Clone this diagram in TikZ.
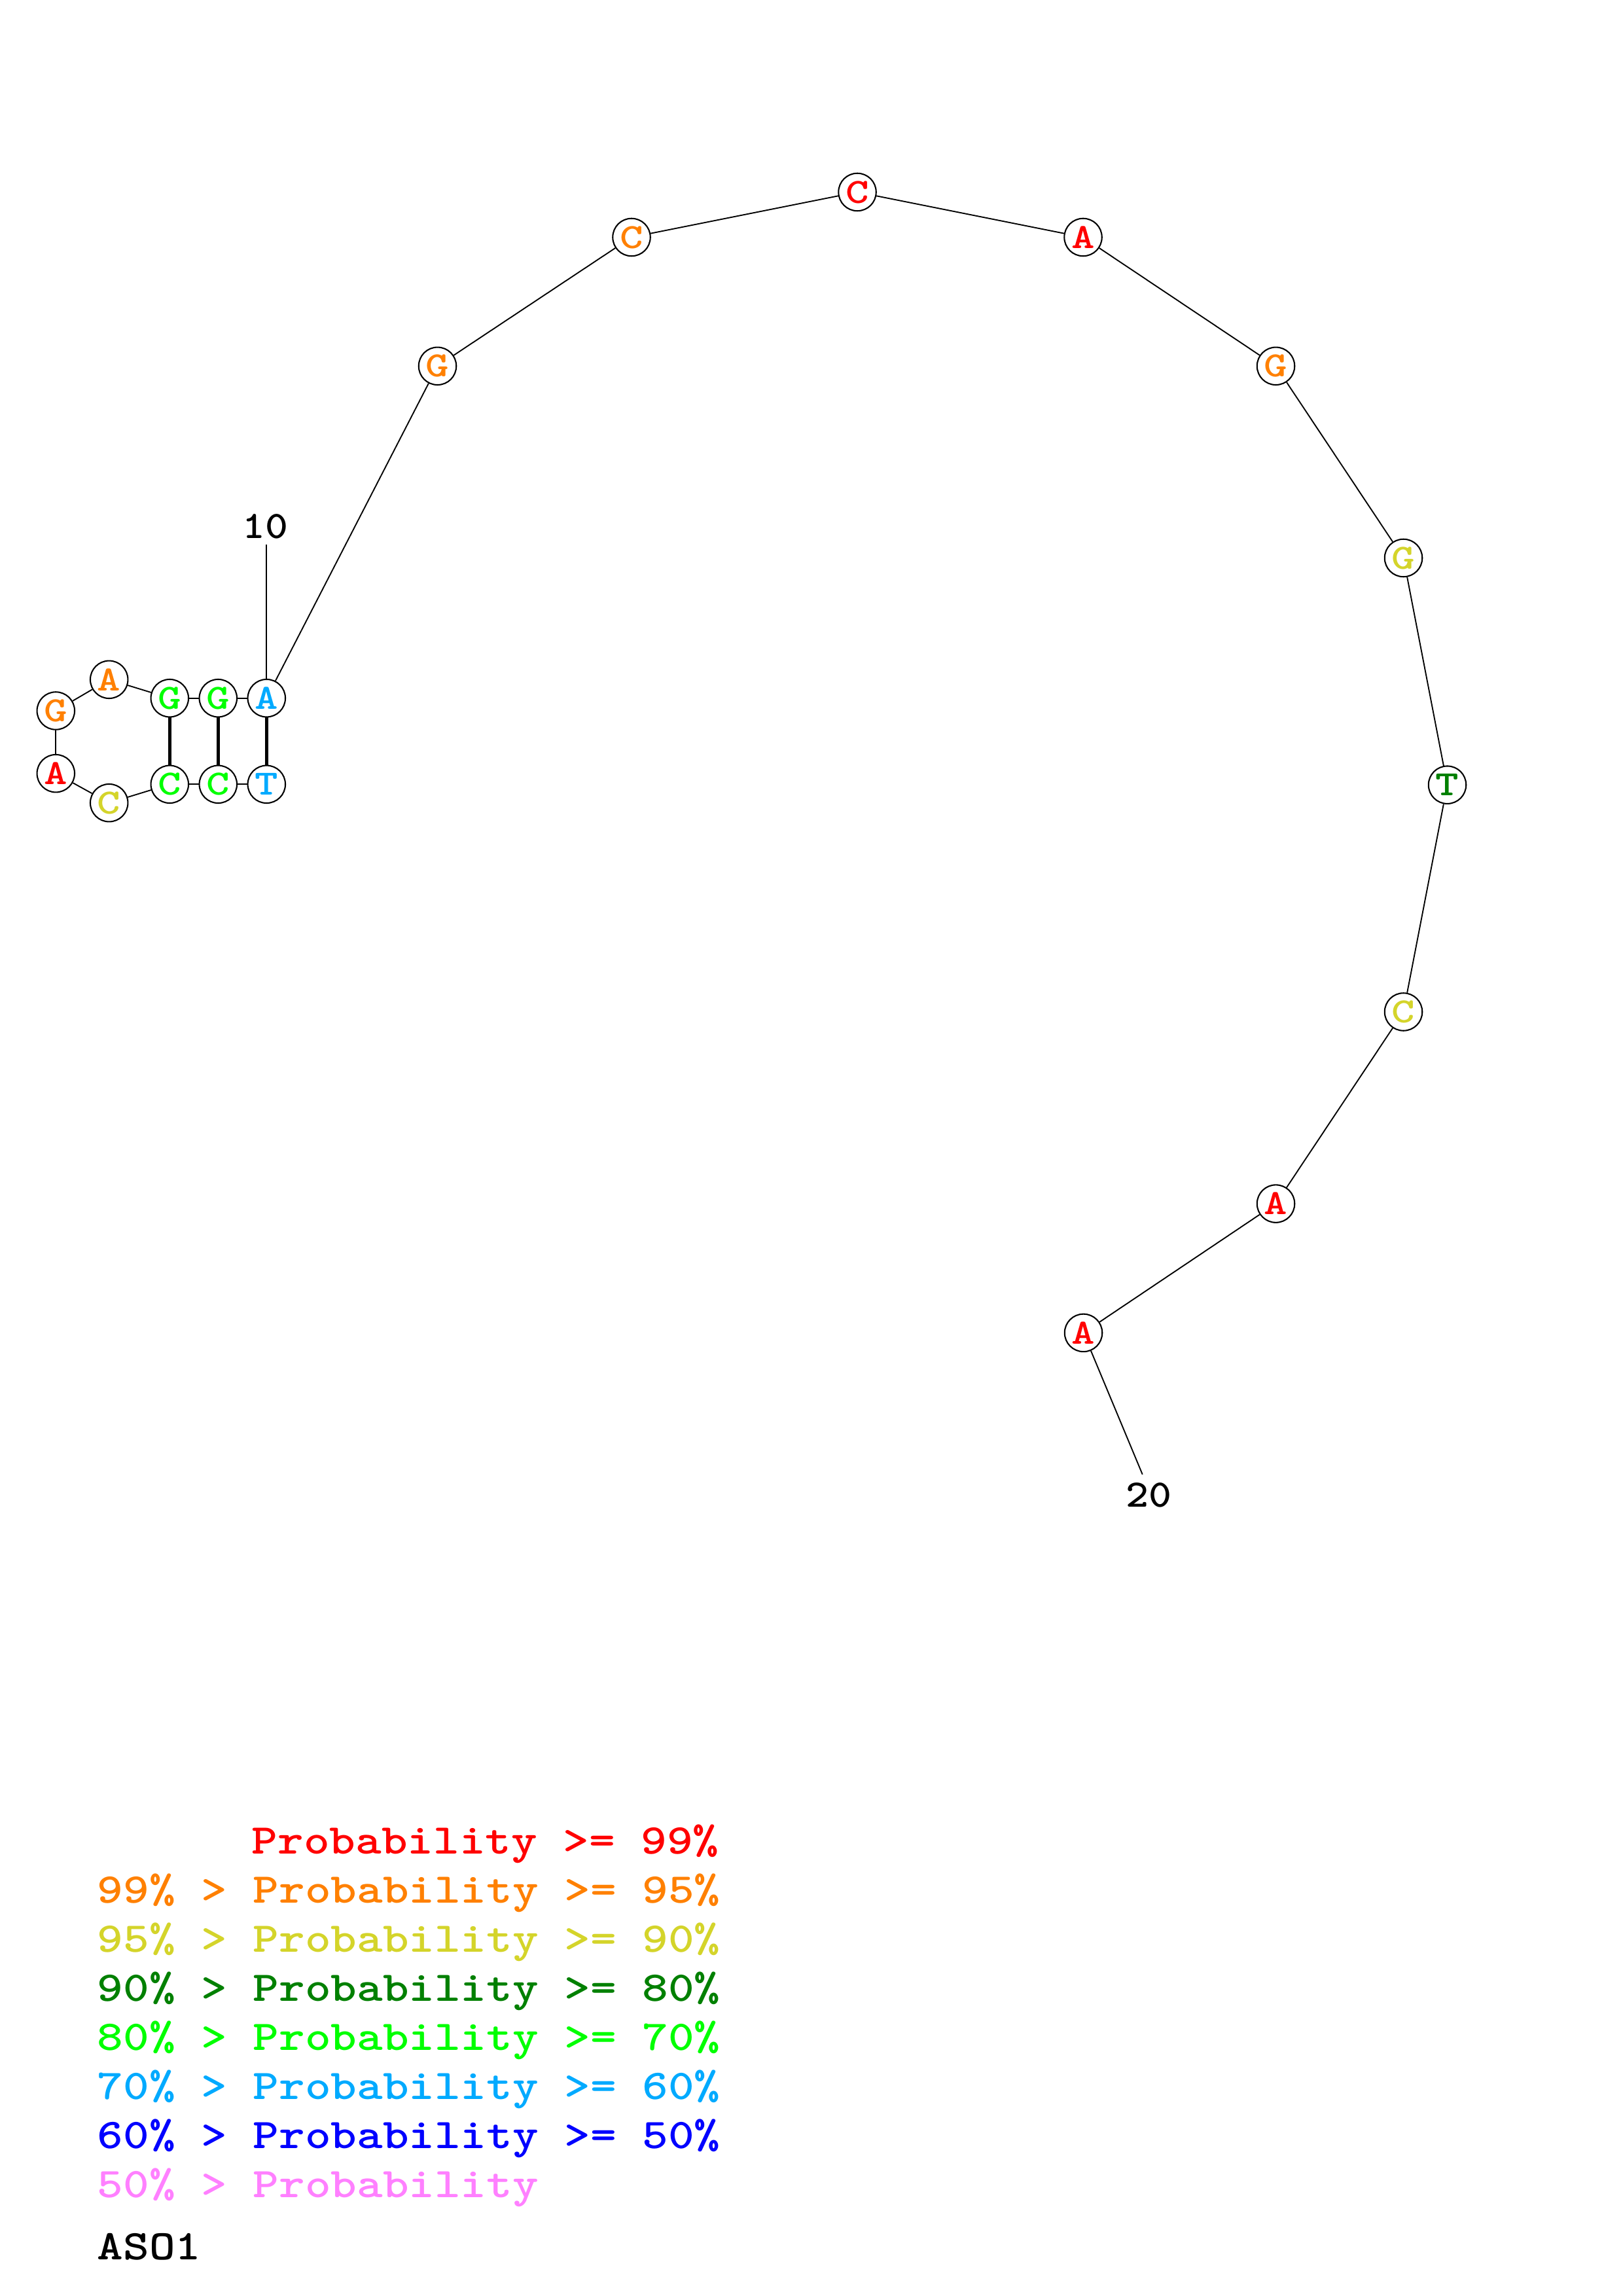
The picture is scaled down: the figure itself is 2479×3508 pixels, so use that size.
\documentclass[tikz,border=0pt]{standalone}
\usepackage{fontspec}
\usepackage{graphicx}
\definecolor{pRed}{RGB}{255,0,0}
\definecolor{pOrange}{RGB}{255,128,0}
\definecolor{pYellow}{RGB}{212,212,42}
\definecolor{pDkGreen}{RGB}{0,128,0}
\definecolor{pGreen}{RGB}{0,255,0}
\definecolor{pLtBlue}{RGB}{0,170,255}
\definecolor{pBlue}{RGB}{0,0,255}
\definecolor{pPink}{RGB}{255,128,255}
\newcommand\ntfont{\fontsize{13}{14}\selectfont\ttfamily\bfseries}
\newcommand\legfont{\fontsize{15.5}{17}\selectfont\ttfamily\bfseries}
\newcommand\nuc[1]{\scalebox{1.25}[1]{#1}}
\newcommand\leg[1]{\scalebox{1.17}[1]{#1}}
\newcommand\numtxt[1]{\scalebox{1.03}[0.92]{#1}}
\tikzset{
  nt/.style={circle, draw=black, line width=0.5pt, fill=white, minimum size=13.8pt, inner sep=0pt, font=\ntfont},
  bb/.style={line width=0.45pt, draw=black},
  bp/.style={line width=1.25pt, draw=black},
  legrow/.style={anchor=base west, inner sep=0pt, font=\legfont},
  numlab/.style={inner sep=0pt, font=\legfont}
}
\begin{document}
\begin{tikzpicture}[x=0.2401pt, y=-0.2401pt]
\useasboundingbox[fill=white] (0,0) rectangle (2479,3508);
% nucleotides
\node[nt, text=pLtBlue]  (n1)  at (407.3,1198.3) {\nuc{T}};
\node[nt, text=pGreen]   (n2)  at (333.3,1198.3) {\nuc{C}};
\node[nt, text=pGreen]   (n3)  at (259.3,1198.3) {\nuc{C}};
\node[nt, text=pYellow]  (n4)  at (166.7,1226.7) {\nuc{C}};
\node[nt, text=pRed]     (n5)  at (85.3,1181.7)  {\nuc{A}};
\node[nt, text=pOrange]  (n6)  at (85.3,1086)    {\nuc{G}};
\node[nt, text=pOrange]  (n7)  at (166.7,1038.3) {\nuc{A}};
\node[nt, text=pGreen]   (n8)  at (259.3,1066.7) {\nuc{G}};
\node[nt, text=pGreen]   (n9)  at (333.3,1066.7) {\nuc{G}};
\node[nt, text=pLtBlue]  (n10) at (407.3,1066.7) {\nuc{A}};
\node[nt, text=pOrange]  (n11) at (668.5,559.3)  {\nuc{G}};
\node[nt, text=pOrange]  (n12) at (965,362.5)    {\nuc{C}};
\node[nt, text=pRed]     (n13) at (1310,293.5)   {\nuc{C}};
\node[nt, text=pRed]     (n14) at (1655,362.5)   {\nuc{A}};
\node[nt, text=pOrange]  (n15) at (1949.5,559.3) {\nuc{G}};
\node[nt, text=pYellow]  (n16) at (2144.5,852.5) {\nuc{G}};
\node[nt, text=pDkGreen] (n17) at (2211.5,1199.2){\nuc{T}};
\node[nt, text=pYellow]  (n18) at (2144.5,1546)  {\nuc{C}};
\node[nt, text=pRed]     (n19) at (1949.5,1839.1){\nuc{A}};
\node[nt, text=pRed]     (n20) at (1655.5,2036.4){\nuc{A}};
% backbone
\draw[bb] (n1) -- (n2);
\draw[bb] (n2) -- (n3);
\draw[bb] (n3) -- (n4);
\draw[bb] (n4) -- (n5);
\draw[bb] (n5) -- (n6);
\draw[bb] (n6) -- (n7);
\draw[bb] (n7) -- (n8);
\draw[bb] (n8) -- (n9);
\draw[bb] (n9) -- (n10);
\draw[bb] (n10) -- (n11);
\draw[bb] (n11) -- (n12);
\draw[bb] (n12) -- (n13);
\draw[bb] (n13) -- (n14);
\draw[bb] (n14) -- (n15);
\draw[bb] (n15) -- (n16);
\draw[bb] (n16) -- (n17);
\draw[bb] (n17) -- (n18);
\draw[bb] (n18) -- (n19);
\draw[bb] (n19) -- (n20);
% base pairs
\draw[bp] (n1) -- (n10);
\draw[bp] (n2) -- (n9);
\draw[bp] (n3) -- (n8);
% position ticks
\coordinate (t10) at (407.3,832);
\coordinate (t20) at (1745.7,2252.7);
\draw[bb] (n10) -- (t10);
\draw[bb] (n20) -- (t20);
\node[numlab] (lab10) at (405.8,804.7) {\numtxt{10}};
\node[numlab] (lab20) at (1755,2284.3) {\numtxt{20}};
% legend
\node[legrow, text=pRed]     (l1) at (384,2832.7) {\leg{Probability >= 99\%}};
\node[legrow, text=pOrange]  (l2) at (148,2907.7) {\leg{99\% > Probability >= 95\%}};
\node[legrow, text=pYellow]  (l3) at (148,2982.7) {\leg{95\% > Probability >= 90\%}};
\node[legrow, text=pDkGreen] (l4) at (148,3057.7) {\leg{90\% > Probability >= 80\%}};
\node[legrow, text=pGreen]   (l5) at (148,3132.7) {\leg{80\% > Probability >= 70\%}};
\node[legrow, text=pLtBlue]  (l6) at (148,3207.7) {\leg{70\% > Probability >= 60\%}};
\node[legrow, text=pBlue]    (l7) at (148,3282.7) {\leg{60\% > Probability >= 50\%}};
\node[legrow, text=pPink]    (l8) at (148,3357.7) {\leg{50\% > Probability}};
\node[legrow, text=black]    (l9) at (148,3452.7) {\leg{ASO1}};
\end{tikzpicture}
\end{document}
